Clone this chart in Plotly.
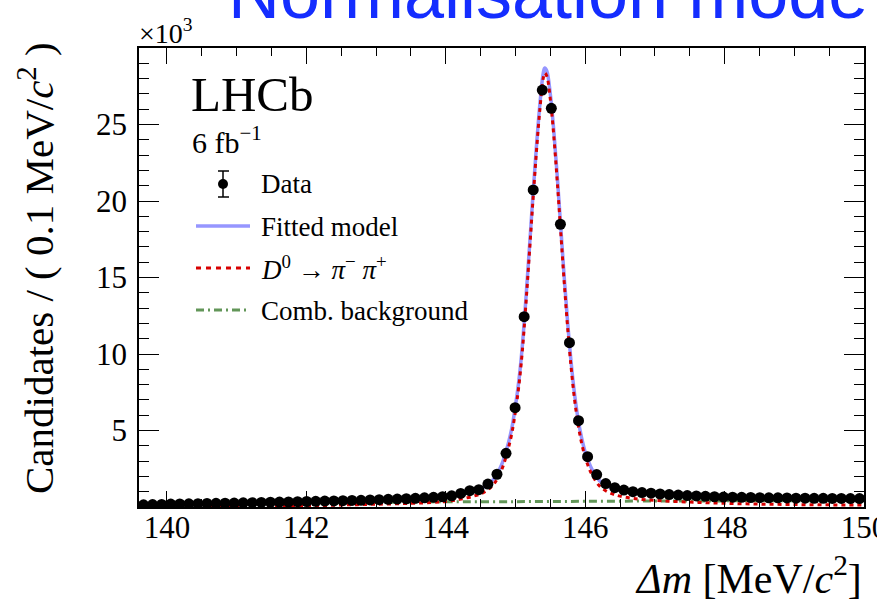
import numpy as np
import plotly.graph_objects as go

# ---------------- data ----------------
bin_low = 139.6
bin_width = 0.13
data_counts = [140, 160, 170, 190, 200, 210, 220, 230, 240, 250,
               260, 270, 280, 300, 310, 320, 330, 350, 360, 370,
               390, 400, 410, 430, 440, 460, 480, 500, 520, 540,
               570, 600, 630, 670, 730, 890, 1070, 1130, 1500, 2140,
               3510, 6490, 12440, 20720, 27250, 26060, 18480, 10740, 5640, 3290,
               2120, 1530, 1260, 1110, 1000, 940, 900, 850, 810, 780,
               750, 720, 700, 670, 650, 640, 630, 620, 610, 600,
               600, 590, 580, 580, 570, 570, 560, 560, 550, 550]
data_x = [round(bin_low + bin_width * (i + 0.5), 4) for i in range(len(data_counts))]

curve_x = [139.6, 139.8, 140.0, 140.5, 141.0, 141.5, 142.0, 142.5, 143.0, 143.5,
           143.8, 144.0, 144.2, 144.4, 144.5, 144.6, 144.7, 144.8, 144.85, 144.9,
           144.95, 145.0, 145.05, 145.1, 145.15, 145.2, 145.25, 145.3, 145.35, 145.4,
           145.42, 145.45, 145.5, 145.55, 145.6, 145.65, 145.7, 145.75, 145.8, 145.85,
           145.9, 145.95, 146.0, 146.05, 146.1, 146.2, 146.3, 146.4, 146.5, 146.7,
           147.0, 147.5, 148.0, 148.5, 149.0, 149.5, 150.0]
model_counts = [100, 150, 180, 220, 260, 300, 340, 410, 480, 560,
                630, 700, 840, 1050, 1200, 1450, 1900, 2750, 3400, 4200,
                5200, 6600, 8300, 10600, 13600, 16900, 20300, 23500, 26300, 28400,
                28700, 28500, 27000, 24600, 21600, 18300, 15000, 12000, 9400, 7300,
                5700, 4500, 3600, 2950, 2450, 1750, 1400, 1200, 1080, 930,
                820, 730, 660, 610, 580, 560, 550]
signal_counts = [60, 50, 50, 40, 40, 50, 60, 130, 180, 240,
                 290, 360, 500, 710, 860, 1110, 1560, 2410, 3060, 3860,
                 4860, 6260, 7960, 10260, 13260, 16560, 19960, 23160, 25960, 28060,
                 28360, 28160, 26660, 24260, 21260, 17960, 14660, 11660, 9060, 6960,
                 5360, 4160, 3260, 2600, 2100, 1400, 1050, 840, 710, 550,
                 430, 320, 240, 190, 160, 140, 130]
bkg_x = [139.6, 139.8, 140.0, 140.5, 141.0, 141.5, 142.0, 142.5, 143.0, 143.5,
         144.0, 145.0, 146.0, 147.0, 148.0, 149.0, 150.0]
bkg_counts = [40, 100, 130, 180, 220, 250, 270, 280, 300, 320,
              340, 350, 370, 390, 400, 410, 420]

y_tickvals = [5000, 10000, 15000, 20000, 25000]
y_ticktext = ["5", "10", "15", "20", "25"]
x_tickvals = [140, 142, 144, 146, 148, 150]
x_ticktext = ["140", "142", "144", "146", "148", "150"]

legend_labels = ["Data", "Fitted model",
                 "<i>D</i><sup>0</sup> \u2192 <i>\u03c0</i><sup>\u2212</sup> <i>\u03c0</i><sup>+</sup>",
                 "Comb. background"]

# ---------------- styling ----------------
W, H = 877, 600
L, R, T, B = 139, 13, 48, 93
PW, PH = W - L - R, H - T - B
SERIF = "Liberation Serif, Times New Roman, serif"
BLUE = "rgb(150,150,255)"
RED = "rgb(215,0,0)"
GREEN = "rgb(98,150,88)"


def px(xp):
    return (xp - L) / PW


def py(yp):
    return (H - B - yp) / PH


fig = go.Figure()
fig.add_trace(go.Scatter(x=curve_x, y=model_counts, mode="lines", line_shape="spline",
                         line=dict(color=BLUE, width=3.5), showlegend=False))
fig.add_trace(go.Scatter(x=bkg_x, y=bkg_counts, mode="lines", line_shape="spline",
                         line=dict(color=GREEN, width=3, dash="8px,4px,2px,4px"), showlegend=False))
fig.add_trace(go.Scatter(x=curve_x, y=signal_counts, mode="lines", line_shape="spline",
                         line=dict(color=RED, width=3, dash="4px,4px"), showlegend=False))
fig.add_trace(go.Scatter(x=data_x, y=data_counts, mode="markers",
                         marker=dict(color="black", size=11), showlegend=False))

axis_common = dict(showline=True, linecolor="black", linewidth=1.5, mirror="ticks",
                   ticks="inside", tickcolor="black", showgrid=False, zeroline=False,
                   ticklabeloverflow="allow", automargin=False,
                   tickfont=dict(family=SERIF, size=31, color="black"))
fig.update_xaxes(range=[139.6, 150.0], tickvals=x_tickvals, ticktext=x_ticktext,
                 ticklen=16, tickwidth=1.2, ticklabelstandoff=-8,
                 minor=dict(dtick=0.5, tick0=140, ticklen=8, ticks="inside", tickcolor="black", tickwidth=1),
                 **axis_common)
fig.update_yaxes(range=[0, 30000], tickvals=y_tickvals, ticktext=y_ticktext,
                 ticklen=20, tickwidth=1.2, ticklabelstandoff=4,
                 minor=dict(dtick=1000, tick0=0, ticklen=10, ticks="inside", tickcolor="black", tickwidth=1),
                 **axis_common)

ann = []
# title partially cut off at the top
ann.append(dict(text="Normalisation mode", x=px(548), y=py(35), xref="paper", yref="paper",
                xanchor="center", yanchor="bottom", showarrow=False,
                font=dict(family="Liberation Sans, Arial, sans-serif", size=72, color="rgb(20,45,255)")))
ann.append(dict(text="\u00d710<sup>3</sup>", x=px(137), y=py(32), xref="paper", yref="paper",
                xanchor="left", yanchor="middle", showarrow=False,
                font=dict(family=SERIF, size=28, color="black")))
ann.append(dict(text="<i>\u0394m</i> [MeV/<i>c</i><sup>2</sup>]", x=px(864), y=py(575), xref="paper", yref="paper",
                xanchor="right", yanchor="middle", showarrow=False,
                font=dict(family=SERIF, size=42, color="black")))
ann.append(dict(text="Candidates / ( 0.1 MeV/<i>c</i><sup>2</sup> )", x=px(36), y=py(268), xref="paper", yref="paper",
                xanchor="center", yanchor="middle", textangle=-90, showarrow=False,
                font=dict(family=SERIF, size=41, color="black")))
ann.append(dict(text="LHCb", x=px(189), y=py(94), xref="paper", yref="paper",
                xanchor="left", yanchor="middle", showarrow=False,
                font=dict(family=SERIF, size=49, color="black")))
ann.append(dict(text="6 fb<sup>\u22121</sup>", x=px(190), y=py(140), xref="paper", yref="paper",
                xanchor="left", yanchor="middle", showarrow=False,
                font=dict(family=SERIF, size=30, color="black")))
leg_y = [184, 227, 268, 311]
for lab, yy in zip(legend_labels, leg_y):
    ann.append(dict(text=lab, x=px(259), y=py(yy), xref="paper", yref="paper",
                    xanchor="left", yanchor="middle", showarrow=False,
                    font=dict(family=SERIF, size=27, color="black")))

shapes = []
# Data legend symbol
shapes.append(dict(type="line", xref="paper", yref="paper", x0=px(223), x1=px(223), y0=py(171), y1=py(197),
                   line=dict(color="black", width=1.5)))
shapes.append(dict(type="line", xref="paper", yref="paper", x0=px(218), x1=px(229), y0=py(171), y1=py(171),
                   line=dict(color="black", width=1.5)))
shapes.append(dict(type="line", xref="paper", yref="paper", x0=px(218), x1=px(229), y0=py(197), y1=py(197),
                   line=dict(color="black", width=1.5)))
shapes.append(dict(type="circle", xref="paper", yref="paper", x0=px(218), x1=px(228), y0=py(189), y1=py(179),
                   fillcolor="black", line=dict(color="black", width=0)))
shapes.append(dict(type="line", xref="paper", yref="paper", x0=px(196), x1=px(250), y0=py(226), y1=py(226),
                   line=dict(color=BLUE, width=3.5)))
shapes.append(dict(type="line", xref="paper", yref="paper", x0=px(196), x1=px(250), y0=py(268), y1=py(268),
                   line=dict(color=RED, width=3, dash="5px,5px")))
shapes.append(dict(type="line", xref="paper", yref="paper", x0=px(196), x1=px(250), y0=py(310), y1=py(310),
                   line=dict(color=GREEN, width=3, dash="8px,4px,2px,4px")))

fig.update_layout(width=W, height=H, margin=dict(l=L, r=R, t=T, b=B, pad=0, autoexpand=False),
                  paper_bgcolor="white", plot_bgcolor="white",
                  annotations=ann, shapes=shapes, showlegend=False)

fig.write_html("out.html", config={"displayModeBar": False},
               post_script="document.body.style.margin='0';document.body.style.overflow='hidden';")
